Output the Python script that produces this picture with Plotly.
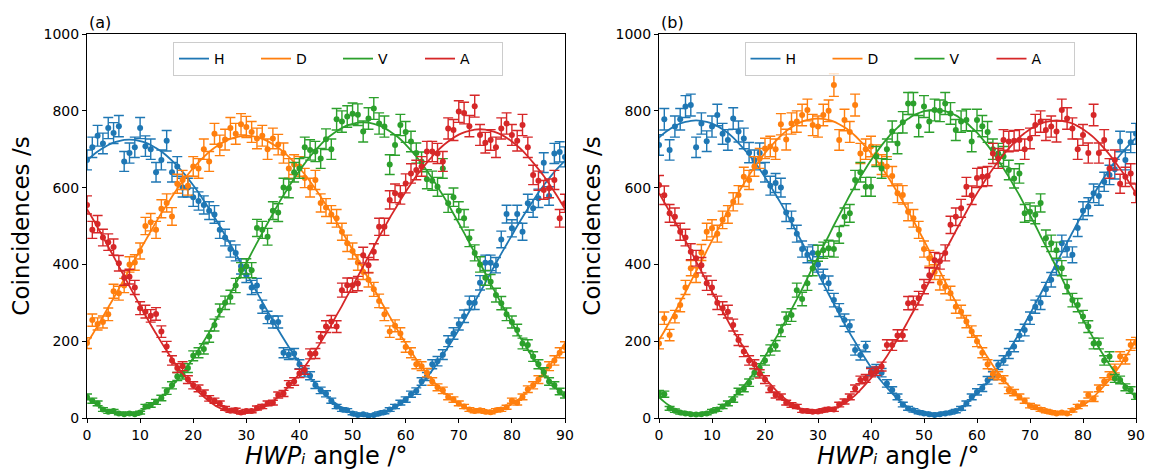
import numpy as np
import plotly.graph_objects as go

angles = [0,1,2,3,4,5,6,7,8,9,10,11,12,13,14,15,16,17,18,19,20,21,22,23,24,25,26,27,28,29,
          30,31,32,33,34,35,36,37,38,39,40,41,42,43,44,45,46,47,48,49,50,51,52,53,54,55,56,57,58,59,
          60,61,62,63,64,65,66,67,68,69,70,71,72,73,74,75,76,77,78,79,80,81,82,83,84,85,86,87,88,89,90]

# ---------------- panel (a) ----------------
Ha_data = [672,705,735,715,755,742,760,668,690,705, 755,708,700,640,672,722,640,655,600,600,
           575,565,555,540,530,490,470,440,430,395, 372,340,345,290,262,250,250,170,165,168,
           140,118,110,86,72,63,45,30,22,20, 12,8,10,6,8,12,15,22,30,40,
           48,62,70,95,108,140,148,165,200,220, 245,265,300,300,352,404,404,398,465,531,
           494,531,485,559,546,572,665,578,689,693, 680]
Da_data = [195,255,245,250,270,330,325,345,400,405, 435,500,510,490,545,560,525,610,620,605,
           655,650,700,668,740,710,725,755,740,765, 758,745,728,735,700,728,712,690,650,660,
           655,625,600,620,560,548,530,520,485,455, 435,405,380,360,335,305,270,225,240,220,
           185,170,140,135,118,95,80,72,55,48, 38,30,22,18,20,16,15,20,22,28,
           45,40,55,75,85,100,118,135,150,170, 185]
Va_data = [55,45,38,22,16,18,12,10,12,10, 14,30,34,42,52,70,85,108,112,130,
           162,170,180,212,242,280,300,315,345,385, 395,385,495,490,472,540,535,600,598,640,
           650,705,698,694,676,726,700,778,772,785, 792,790,746,780,806,767,759,660,711,763,
           745,720,690,667,622,618,602,650,559,575, 540,520,468,430,400,365,355,320,299,270,
           250,229,194,190,160,140,120,95,85,69, 60]
Aa_data = [555,490,505,470,458,445,403,365,368,340, 286,277,266,271,225,186,150,130,135,100,
           85,77,65,51,45,38,25,19,21,14, 18,18,26,30,38,40,60,64,88,95,
           116,125,167,168,210,238,251,238,333,346, 346,350,424,398,433,498,498,568,585,581,
           611,637,646,655,694,694,689,668,754,750, 798,794,760,812,737,717,724,705,754,767,
           737,722,763,705,633,618,594,598,620,520, 559]

Ha_fit = [670,683,694,703,711,717,721,724,725,
          724,721,717,711,703,694,683,670,656,641,624,606,587,566,545,523,500,476,452,428,403,378,352,327,302,278,254,230,207,185,164,143,124,106,89,74,60,47,36,27,19,13,9,6,5,
          6,9,13,19,27,36,47,60,74,89,106,124,143,164,185,207,230,254,278,302,327,352,378,403,428,452,476,500,523,545,566,587,606,624,641,656,670]
Da_fit = [195,217,240,264,288,312,337,362,388,413,438,462,486,510,533,555,576,597,616,634,651,666,680,693,704,713,721,727,731,734,735,
          734,731,727,721,713,704,693,680,666,651,634,616,597,576,555,533,510,486,462,438,413,388,362,337,312,288,264,240,217,195,174,153,134,116,99,84,70,57,46,37,29,23,19,16,15,
          16,19,23,29,37,46,57,70,84,99,116,134,153,174,195]
Va_fit = [54,43,33,25,18,14,11,10,
          11,14,18,25,33,43,54,68,83,99,117,136,156,178,200,223,248,273,298,324,350,377,403,430,456,482,507,532,557,580,602,624,644,663,681,697,712,726,737,747,755,762,766,769,770,
          769,766,762,755,747,737,726,712,697,681,663,644,624,602,580,557,532,507,482,456,430,403,377,350,324,298,273,248,223,200,178,156,136,117,99,83,68,54]
Aa_fit = [544,521,496,472,446,421,395,369,343,318,292,268,243,220,197,175,154,134,116,99,83,68,55,44,34,26,20,16,13,12,
          13,16,20,26,34,44,55,68,83,99,116,134,154,175,197,220,243,268,292,318,343,369,395,421,446,472,496,521,544,567,589,610,630,648,665,681,696,709,720,730,738,744,748,751,752,
          751,748,744,738,730,720,709,696,681,665,648,630,610,589,567,544]

# ---------------- panel (b) ----------------
Hb_data = [711,778,698,759,778,811,815,705,767,721, 759,789,740,724,780,746,728,691,672,690,
           640,605,612,600,535,516,480,440,425,430, 400,368,351,307,281,255,240,177,164,186,
           121,128,118,90,73,55,35,25,20,15, 12,10,8,10,12,14,18,25,38,55,
           68,78,98,110,138,150,168,186,215,229, 260,290,300,335,360,392,455,440,425,495,
           540,550,585,578,615,633,648,720,672,718, 740]
Db_data = [194,260,216,264,294,340,390,372,431,485, 494,480,516,530,563,581,628,620,655,676,
           702,707,700,765,725,767,772,789,802,763, 759,789,800,867,724,776,745,815,689,700,
           707,685,660,655,630,585,581,537,520,490, 440,416,380,352,342,325,290,277,251,225,
           200,170,140,115,110,100,72,66,55,45, 32,28,22,18,15,12,14,12,20,30,
           38,60,50,77,95,110,129,160,153,190, 196]
Vb_data = [64,62,25,19,14,12,10,9,10,12, 18,22,30,38,48,69,77,92,118,130,
           150,177,188,227,260,268,333,310,351,390, 429,437,442,440,477,524,533,620,640,602,
           602,681,650,700,746,715,770,819,819,760, 811,772,802,800,819,793,750,772,776,720,
           776,760,745,700,689,681,646,624,637,533, 537,529,560,468,455,437,390,342,307,294,
           264,238,194,194,150,160,103,99,80,73, 56]
Ab_data = [607,580,533,524,485,470,433,416,398,351, 340,300,286,277,242,203,173,150,140,115,
           100,75,60,55,40,34,30,19,18,16, 17,20,23,22,35,43,55,77,99,103,
           118,122,134,190,190,215,215,299,300,312, 342,372,411,408,430,503,524,546,602,580,
           625,628,630,689,676,724,720,722,724,700, 728,763,772,750,759,746,802,780,754,700,
           737,690,789,690,724,650,672,610,628,637, 585]

Hb_fit = [730,742,752,760,767,771,774,775,
          774,771,767,760,752,742,730,716,701,685,667,648,627,605,582,559,534,509,483,457,430,403,377,350,323,297,271,246,221,198,175,153,132,113,95,79,64,50,38,28,20,13,9,6,5,
          6,9,13,20,28,38,50,64,79,95,113,132,153,175,198,221,246,271,297,323,350,377,403,430,457,483,509,534,559,582,605,627,648,667,685,701,716,730]
Db_fit = [203,226,251,276,302,328,355,382,408,435,462,488,514,539,564,587,610,632,653,672,690,706,721,735,747,757,765,772,776,779,780,
          779,776,772,765,757,747,735,721,706,690,672,653,632,610,587,564,539,514,488,462,435,408,382,355,328,302,276,251,226,203,180,158,137,118,100,84,69,55,43,33,25,18,14,11,10,
          11,14,18,25,33,43,55,69,84,100,118,137,158,180,203]
Vb_fit = [54,42,32,23,17,12,9,8,
          9,12,17,23,32,42,54,68,84,101,120,139,161,183,207,231,257,283,309,336,364,392,419,447,474,502,528,554,580,604,628,650,671,691,710,727,743,756,769,779,788,794,799,802,803,
          802,799,794,788,779,769,756,743,727,710,691,671,650,628,604,580,554,528,502,474,447,419,392,364,336,309,283,257,231,207,183,161,139,120,101,84,68,54]
Ab_fit = [585,562,537,512,487,461,435,408,382,355,329,303,278,253,228,205,183,161,141,122,104,88,73,59,48,38,30,23,19,16,15,
          16,19,23,30,38,48,59,73,88,104,122,141,161,183,205,228,253,278,303,329,355,382,408,435,461,487,512,537,562,585,607,629,649,668,686,702,717,731,742,752,760,767,771,774,775,
          774,771,767,760,752,742,731,717,702,686,668,649,629,607,585]

labels = ["H", "D", "V", "A"]
colors = ["#1f77b4", "#ff7f0e", "#2ca02c", "#d62728"]
x_ticks = [0, 10, 20, 30, 40, 50, 60, 70, 80, 90]
y_ticks = [0, 200, 400, 600, 800, 1000]
panel_labels = ["(a)", "(b)"]
x_title = "<i>HWPᵢ</i> angle /°"
y_title = "Coincidences /s"

panels = [
    ([Ha_data, Da_data, Va_data, Aa_data], [Ha_fit, Da_fit, Va_fit, Aa_fit]),
    ([Hb_data, Db_data, Vb_data, Ab_data], [Hb_fit, Db_fit, Vb_fit, Ab_fit]),
]

# the page body has an 8px margin, so the figure is drawn 8px in from the top-left
PAGE_OFF = 8
W, H = 1158 - PAGE_OFF, 470 - PAGE_OFF
ML, MR, MT, MB = 87 - PAGE_OFF, 22, 34 - PAGE_OFF, 52
PW = W - ML - MR
PH = H - MT - MB
dom_a = [0, (565 - 87) / PW]
dom_b = [(659 - 87) / PW, 1.0]
domains = [dom_a, dom_b]

FONT = "DejaVu Sans"
fig = go.Figure()

for p, (datas, fits) in enumerate(panels):
    xa = "x" if p == 0 else "x2"
    ya = "y" if p == 0 else "y2"
    leg = "legend" if p == 0 else "legend2"
    for i in range(4):
        vals = np.array(datas[i], dtype=float)
        err = np.sqrt(np.clip(vals, 1, None))
        fig.add_trace(go.Scatter(
            x=angles, y=datas[i], mode="markers", xaxis=xa, yaxis=ya,
            marker=dict(color=colors[i], size=6),
            error_y=dict(type="data", array=err, color=colors[i], thickness=1.4, width=5),
            showlegend=False, hoverinfo="skip"))
        fig.add_trace(go.Scatter(
            x=angles, y=fits[i], mode="lines", xaxis=xa, yaxis=ya,
            line=dict(color=colors[i], width=1.8, shape="spline"),
            name=labels[i], legend=leg, showlegend=True))

axis_common = dict(showline=True, linecolor="black", linewidth=1, mirror=True,
                   ticks="outside", ticklen=4, tickwidth=1, tickcolor="black",
                   showgrid=False, zeroline=False, automargin=False,
                   tickfont=dict(family=FONT, size=14, color="black"))

for p in range(2):
    xk = "xaxis" if p == 0 else "xaxis2"
    yk = "yaxis" if p == 0 else "yaxis2"
    fig.update_layout(**{
        xk: dict(domain=domains[p], range=[0, 90], tickvals=x_ticks,
                 anchor="y" if p == 0 else "y2", **axis_common),
        yk: dict(domain=[0, 1], range=[0, 1000], tickvals=y_ticks,
                 anchor="x" if p == 0 else "x2",
                 title=dict(text=y_title,
                            font=dict(family=FONT, size=23, color="black"), standoff=8),
                 **axis_common),
    })
    # panel label
    fig.add_annotation(text=panel_labels[p], xref="x domain" if p == 0 else "x2 domain",
                       yref="paper", x=0, y=1, xanchor="left", yanchor="bottom",
                       yshift=0, showarrow=False,
                       font=dict(family=FONT, size=16, color="black"))
    # x-axis title
    fig.add_annotation(text=x_title, xref="x domain" if p == 0 else "x2 domain",
                       yref="paper", x=0.5, y=0, xanchor="center", yanchor="middle",
                       yshift=-38, showarrow=False,
                       font=dict(family=FONT, size=24, color="black"))

legend_style = dict(orientation="h", xanchor="center", yanchor="top",
                    y=1 - 8 / 384,
                    bgcolor="rgba(255,255,255,0.8)", bordercolor="#cccccc", borderwidth=1,
                    font=dict(family=FONT, size=14, color="black"),
                    entrywidth=37, entrywidthmode="pixels", itemwidth=30)
LEG_SHIFT = 12 / PW
fig.update_layout(
    width=W, height=H,
    margin=dict(l=ML, r=MR, t=MT, b=MB, autoexpand=False),
    paper_bgcolor="white", plot_bgcolor="white",
    font=dict(family=FONT, color="black"),
    legend=dict(x=(dom_a[0] + dom_a[1]) / 2 + LEG_SHIFT, **legend_style),
    legend2=dict(x=(dom_b[0] + dom_b[1]) / 2 + LEG_SHIFT, **legend_style),
)

fig.write_html("out.html")
